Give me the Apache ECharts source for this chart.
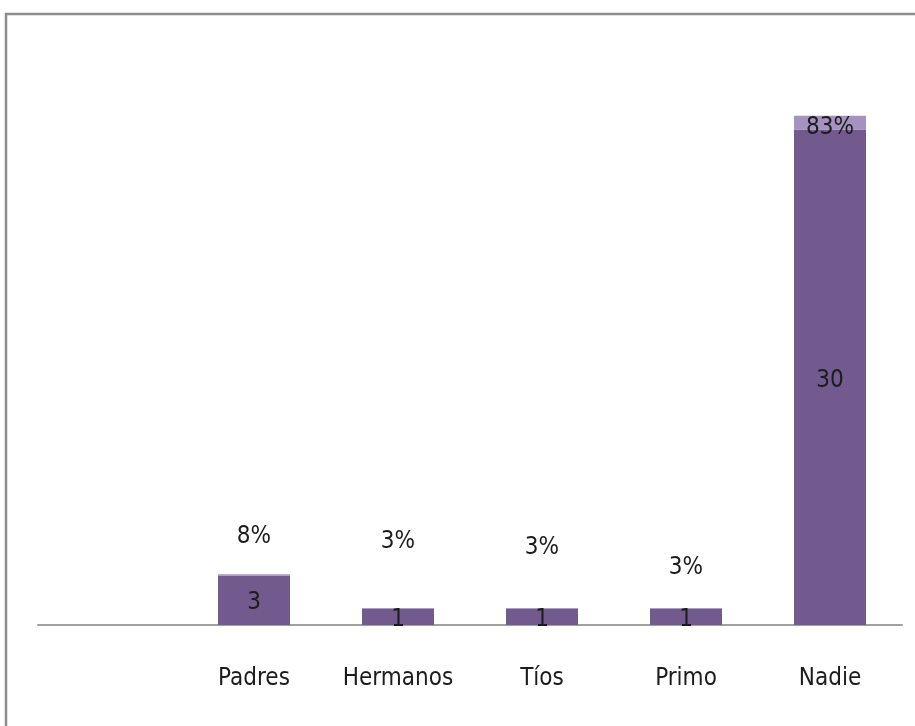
<!DOCTYPE html>
<html>
<head>
<meta charset="utf-8">
<style>
  html, body { margin: 0; padding: 0; background: #ffffff; }
  #chart { width: 915px; height: 726px; }
</style>
<script src="https://cdn.jsdelivr.net/npm/echarts@6/dist/echarts.min.js"></script>
</head>
<body>
<div id="chart"></div>
<script>
// Categories (the first slot is left blank on purpose)
const categories = ['', 'Padres', 'Hermanos', 'Tíos', 'Primo', 'Nadie'];
// Number of people per category
const counts = [null, 3, 1, 1, 1, 30];
// Share of the total, stacked as a thin segment on top
const shares = [null, 0.08, 0.03, 0.03, 0.03, 0.83];
const shareLabels = ['', '8%', '3%', '3%', '3%', '83%'];
// Vertical shift of each percentage label (px)
const shareLabelShift = [0, -20, -49, -43, -23, 5];

const FONT = "'Liberation Sans Narrow', 'DejaVu Sans Condensed', sans-serif";
const TEXT = '#1c1c1c';
const FS = 24;

const chart = echarts.init(document.getElementById('chart'), null, { renderer: 'canvas' });

const shareData = shares.map((v, i) => {
  if (v === null) return null;
  const isTop = i === shares.length - 1;
  return {
    value: v,
    label: {
      show: true,
      position: isTop ? 'inside' : 'top',
      offset: [0, shareLabelShift[i]],
      formatter: () => shareLabels[i]
    }
  };
});

chart.setOption({
  animation: false,
  backgroundColor: '#ffffff',
  graphic: [{
    type: 'rect',
    shape: { x: 6, y: 14, width: 940, height: 760 },
    style: { fill: 'none', stroke: '#8c8c8c', lineWidth: 2.5 },
    silent: true,
    z: 0
  }],
  grid: { left: 38, right: 13, top: 47, bottom: 101, containLabel: false },
  xAxis: {
    type: 'category',
    data: categories,
    axisLine: { show: true, lineStyle: { color: '#a0a0a0', width: 2 } },
    axisTick: { show: false },
    axisLabel: { color: TEXT, fontFamily: FONT, fontSize: FS, margin: 42, interval: 0 }
  },
  yAxis: {
    type: 'value',
    min: 0,
    max: 35,
    show: false,
    splitLine: { show: false }
  },
  series: [
    {
      name: 'Cantidad',
      type: 'bar',
      stack: 'total',
      barWidth: '50%',
      data: counts,
      itemStyle: { color: '#725a8f' },
      label: {
        show: true,
        position: 'inside',
        offset: [0, 3],
        color: TEXT,
        fontFamily: FONT,
        fontSize: FS
      }
    },
    {
      name: 'Porcentaje',
      type: 'bar',
      stack: 'total',
      barWidth: '50%',
      data: shareData,
      itemStyle: { color: '#a592c0' },
      label: {
        color: TEXT,
        fontFamily: FONT,
        fontSize: FS
      }
    }
  ]
});
</script>
</body>
</html>
